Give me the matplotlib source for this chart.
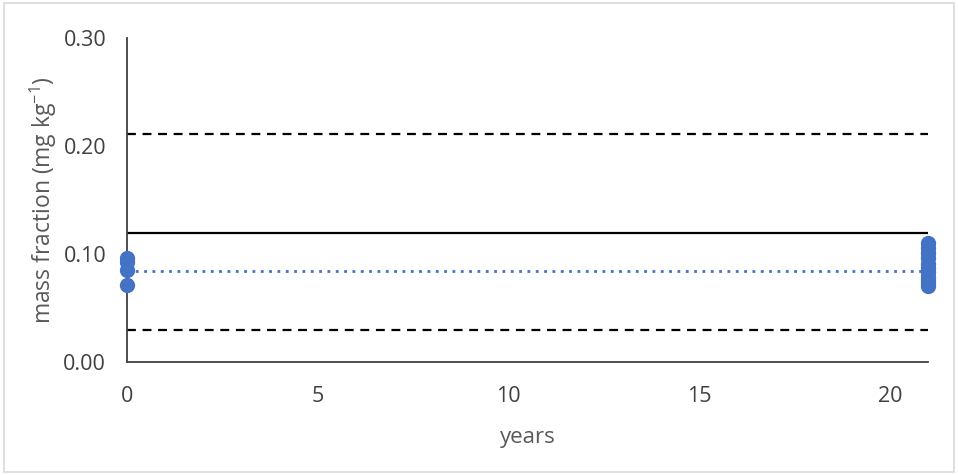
import matplotlib.pyplot as plt
from matplotlib.patches import Rectangle

# measured mass fractions (mg/kg) at start and after 21 years
years_start = [0, 0, 0, 0]
vals_start = [0.096, 0.093, 0.085, 0.071]
years_end = [21] * 11
vals_end = [0.110, 0.106, 0.101, 0.096, 0.091, 0.087, 0.083, 0.079, 0.076, 0.073, 0.070]

mean_val = 0.084
ref_val = 0.119
lower_lim = 0.030
upper_lim = 0.211
x_span = [0, 21]

plt.rcParams['font.family'] = ['Open Sans', 'DejaVu Sans']
grey = '#595959'

fig = plt.figure(figsize=(9.58, 4.75), dpi=100)
ax = fig.add_axes([0.1326, 0.2379, 0.8361, 0.682])

ax.plot(x_span, [upper_lim] * 2, color='black', ls=(0, (4, 3)), lw=1.6)
ax.plot(x_span, [lower_lim] * 2, color='black', ls=(0, (4, 3)), lw=1.6)
ax.plot(x_span, [ref_val] * 2, color='black', lw=1.6)
ax.plot(x_span, [mean_val] * 2, color='#4472C4', ls=(0, (1, 2)), lw=2)

ax.plot(years_start, vals_start, 'o', color='#4472C4', ms=10, clip_on=False, zorder=5)
ax.plot(years_end, vals_end, 'o', color='#4472C4', ms=10, clip_on=False, zorder=5)

ax.set_xlim(0, 21)
ax.set_ylim(0, 0.30)
ax.set_xticks([0, 5, 10, 15, 20])
ax.set_yticks([0, 0.1, 0.2, 0.3])
ax.set_yticklabels(['0.00', '0.10', '0.20', '0.30'])
ax.tick_params(length=0, labelsize=15.5, colors='#404040', pad=15)
ax.tick_params(axis='x', pad=17)

for s in ['top', 'right']:
    ax.spines[s].set_visible(False)
for s in ['left', 'bottom']:
    ax.spines[s].set_color('#404040')
    ax.spines[s].set_linewidth(1.3)

ax.set_xlabel('years', fontsize=16, color=grey, labelpad=15)
ax.set_ylabel('mass fraction (mg kg$^{\\mathregular{-1}}$)', fontsize=16.5, color=grey, labelpad=3)

fig.patches.append(Rectangle((0.004, 0.006), 0.992, 0.988, transform=fig.transFigure,
                             fill=False, edgecolor='#d9d9d9', lw=1.2))

fig.savefig('out.png', dpi=100)
